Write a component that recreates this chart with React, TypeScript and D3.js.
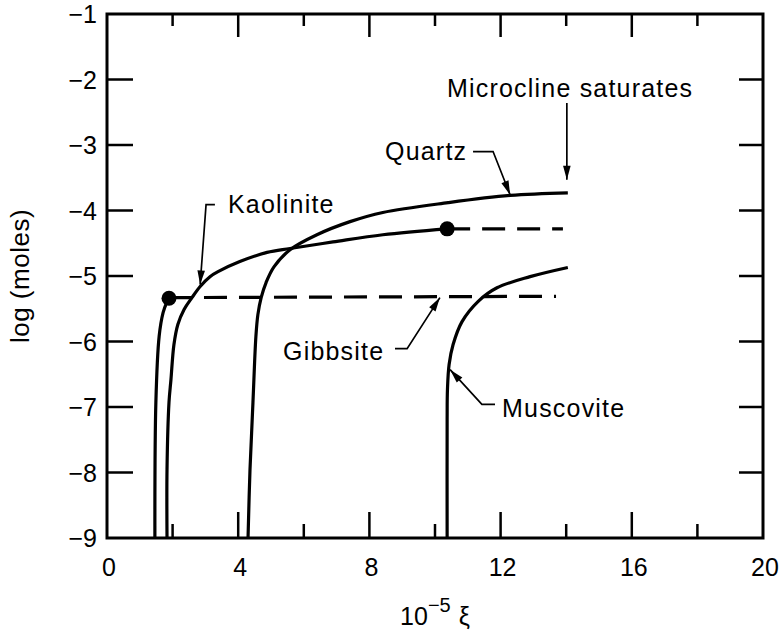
import React from "react";
import * as d3 from "d3";

type P = [number, number];

const gibbsiteSolid: P[] = [[1.46, -9], [1.49, -6.93], [1.59, -5.92], [1.71, -5.56], [1.83, -5.39], [1.89, -5.33]];
const gibbsiteDashed: P[] = [[1.89, -5.33], [13.69, -5.31]];
const kaoliniteSolid: P[] = [[1.83, -9], [1.83, -7.95], [1.89, -6.93], [1.95, -6.58], [2.04, -6.05], [2.16, -5.74], [2.35, -5.51], [2.59, -5.33], [2.84, -5.16], [3.14, -5.01], [3.4, -4.93], [4.05, -4.78], [4.88, -4.64], [5.58, -4.58], [6.89, -4.48], [8.41, -4.37], [10.37, -4.28]];
const kaoliniteDashed: P[] = [[10.37, -4.28], [13.9, -4.28]];
const quartzSolid: P[] = [[4.3, -9], [4.36, -7.95], [4.45, -6.93], [4.54, -5.92], [4.6, -5.59], [4.7, -5.33], [4.85, -5.1], [5.09, -4.86], [5.58, -4.6], [6.4, -4.37], [7.41, -4.17], [8.41, -4.03], [10.4, -3.88], [12.29, -3.77], [14.05, -3.73]];
const muscoviteSolid: P[] = [[10.37, -9], [10.37, -7.19], [10.38, -6.73], [10.43, -6.35], [10.55, -6.05], [10.82, -5.7], [11.31, -5.39], [11.89, -5.18], [12.9, -5.01], [14.05, -4.87]];
const dots: P[] = [[1.89, -5.34], [10.37, -4.28]];

const xMajor = [0, 4, 8, 12, 16, 20];
const xMinor = [2, 6, 10, 14, 18];
const yTicks = [-1, -2, -3, -4, -5, -6, -7, -8, -9];

// annotation leaders: [end of horizontal, elbow, arrow tip] in data coords
const labels = [
  { text: "Kaolinite", pts: [[3.29, -3.91], [3.02, -3.91], [2.84, -5.13]] as P[] },
  { text: "Quartz", pts: [[11.16, -3.1], [11.77, -3.1], [12.29, -3.76]] as P[] },
  { text: "Gibbsite", pts: [[8.78, -6.11], [9.15, -6.11], [10.15, -5.33]] as P[] },
  { text: "Muscovite", pts: [[11.83, -6.96], [11.43, -6.96], [10.46, -6.43]] as P[] },
  { text: "Microcline saturates", pts: [[14.02, -2.36], [14.02, -2.36], [14.02, -3.53]] as P[] },
];
const labelPos: Record<string, [number, number]> = {
  Kaolinite: [228, 213],
  Quartz: [385, 160],
  Gibbsite: [283, 360],
  Muscovite: [502, 417],
  "Microcline saturates": [447, 97],
};

export default function App() {
  const x = d3.scaleLinear().domain([0, 20]).range([107, 763]);
  const y = d3.scaleLinear().domain([-9, -1]).range([538, 14]);
  const line = d3
    .line<P>()
    .x((d) => x(d[0]))
    .y((d) => y(d[1]))
    .curve(d3.curveCatmullRom.alpha(0.5));
  const straight = d3.line<P>().x((d) => x(d[0])).y((d) => y(d[1]));
  const font = "'Liberation Sans', Arial, Helvetica, sans-serif";

  const arrowHead = (from: P, to: P) => {
    const x1 = x(from[0]), y1 = y(from[1]), x2 = x(to[0]), y2 = y(to[1]);
    const dx = x2 - x1, dy = y2 - y1;
    const len = Math.hypot(dx, dy) || 1;
    const ux = dx / len, uy = dy / len;
    const L = 14, W = 3.8;
    const bx = x2 - ux * L, by = y2 - uy * L;
    return `${x2},${y2} ${bx - uy * W},${by + ux * W} ${bx + uy * W},${by - ux * W}`;
  };

  return (
    <svg width={781} height={634} style={{ position: "absolute", left: 0, top: 0, background: "#fff" }} fontFamily={font}>
      <rect x={0} y={0} width={781} height={634} fill="#fff" />
      {/* frame */}
      <rect x={x(0)} y={y(-1)} width={x(20) - x(0)} height={y(-9) - y(-1)} fill="none" stroke="#000" strokeWidth={3} />
      {/* y ticks */}
      {yTicks.slice(1, -1).map((t) => (
        <g key={"yt" + t}>
          <line x1={x(0)} x2={x(0) + 26} y1={y(t)} y2={y(t)} stroke="#000" strokeWidth={2.5} />
          <line x1={x(20)} x2={x(20) - 24} y1={y(t)} y2={y(t)} stroke="#000" strokeWidth={2.5} />
        </g>
      ))}
      {yTicks.map((t) => (
        <text key={"yl" + t} x={97} y={y(t) + 9} textAnchor="end" fontSize={25}>
          {"\u2212" + Math.abs(t)}
        </text>
      ))}
      {/* x ticks */}
      {xMajor.slice(1, -1).map((t) => (
        <g key={"xM" + t}>
          <line x1={x(t)} x2={x(t)} y1={y(-9)} y2={y(-9) - 26} stroke="#000" strokeWidth={2.5} />
          <line x1={x(t)} x2={x(t)} y1={y(-1)} y2={y(-1) + 23} stroke="#000" strokeWidth={2.5} />
        </g>
      ))}
      {xMinor.map((t) => (
        <g key={"xm" + t}>
          <line x1={x(t)} x2={x(t)} y1={y(-9)} y2={y(-9) - 14} stroke="#000" strokeWidth={2.5} />
          <line x1={x(t)} x2={x(t)} y1={y(-1)} y2={y(-1) + 12} stroke="#000" strokeWidth={2.5} />
        </g>
      ))}
      {xMajor.map((t) => (
        <text key={"xl" + t} x={x(t) + 2} y={576} textAnchor="middle" fontSize={25}>
          {t}
        </text>
      ))}
      {/* axis titles */}
      <text transform="translate(29,276) rotate(-90)" textAnchor="middle" fontSize={26} letterSpacing={0.5}>
        log (moles)
      </text>
      <text x={435} y={625} textAnchor="middle" fontSize={25}>
        10<tspan dy={-13} fontSize={20}>{"\u22125"}</tspan>
        <tspan dy={13} dx={8} fontSize={25}>ξ</tspan>
      </text>
      {/* curves */}
      {[gibbsiteSolid, kaoliniteSolid, quartzSolid, muscoviteSolid].map((d, i) => (
        <path key={"c" + i} d={line(d) || ""} fill="none" stroke="#000" strokeWidth={3.2} strokeLinejoin="round" />
      ))}
      {[gibbsiteDashed, kaoliniteDashed].map((d, i) => (
        <path key={"d" + i} d={straight(d) || ""} fill="none" stroke="#000" strokeWidth={3.2} strokeDasharray="23 12" />
      ))}
      {dots.map((d, i) => (
        <circle key={"p" + i} cx={x(d[0])} cy={y(d[1])} r={7.5} fill="#000" />
      ))}
      {/* annotations */}
      {labels.map((l) => {
        const [lx, ly] = labelPos[l.text];
        return (
          <g key={l.text}>
            <path d={straight(l.pts) || ""} fill="none" stroke="#000" strokeWidth={1.7} />
            <polygon points={arrowHead(l.pts[1], l.pts[2])} fill="#000" />
            <text x={lx} y={ly} fontSize={25} letterSpacing={1.2}>
              {l.text}
            </text>
          </g>
        );
      })}
    </svg>
  );
}
